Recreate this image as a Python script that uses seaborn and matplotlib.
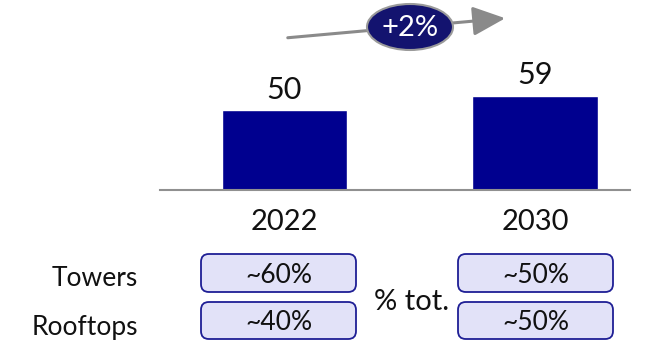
import matplotlib
matplotlib.use("Agg")
import matplotlib.pyplot as plt
import seaborn as sns
import pandas as pd
from matplotlib.patches import FancyBboxPatch, Ellipse, FancyArrowPatch

# Data
years = ["2022", "2030"]
values = [50, 59]
growth_label = "+2%"
row_labels = ["Towers", "Rooftops"]
share_2022 = ["~60%", "~40%"]
share_2030 = ["~50%", "~50%"]
share_caption = "% tot."

sns.set_theme(style="white")
plt.rcParams["font.family"] = ["Lato", "DejaVu Sans"]
plt.rcParams["font.weight"] = "normal"

W, H = 654, 341
fig = plt.figure(figsize=(W / 100, H / 100), dpi=100)


def fx(px):
    return px / W


def fy(py):
    return 1 - py / H


BAR_COLOR = "#00008f"
BOX_EDGE = "#1f1f95"
BOX_FILL = "#e2e2f8"
GREY = "#8a8a8a"
INK = "#111111"

# Bar axes: baseline at y=190 px, spanning x 160..630 px
ax = fig.add_axes([fx(160), fy(190), fx(470), 190 / H])
df = pd.DataFrame({"year": years, "value": values})
sns.barplot(data=df, x="year", y="value", color=BAR_COLOR, width=0.5,
            saturation=1, ax=ax)
unit = 250.5
ax.set_xlim(-(284.5 - 160) / unit, 1 + (630 - 535) / unit)
ax.set_ylim(0, 190 / 1.6)
ax.set_xlabel("")
ax.set_ylabel("")
ax.set_yticks([])
ax.set_xticks([])
for s in ["top", "right", "left"]:
    ax.spines[s].set_visible(False)
ax.spines["bottom"].set_color("#909090")
ax.spines["bottom"].set_linewidth(1.5)
ax.patch.set_alpha(0)

for i, (y, v) in enumerate(zip(years, values)):
    ax.text(i, v + 4, str(v), ha="center", va="bottom", fontsize=22,
            color=INK)
    ax.text(i, -20, y, ha="center", va="center", fontsize=21,
            color=INK, clip_on=False)

# Growth arrow with ellipse badge
arrow = FancyArrowPatch((fx(285), fy(38)), (fx(508), fy(18)),
                        transform=fig.transFigure,
                        arrowstyle="-|>,head_length=1.0,head_width=0.45",
                        mutation_scale=20, color=GREY, lw=2.2)
fig.add_artist(arrow)
ell = Ellipse((fx(410), fy(27)), fx(86), 46 / H, transform=fig.transFigure,
              facecolor="#13136f", edgecolor="#9a9a9a", lw=1.5, zorder=5)
fig.add_artist(ell)
fig.text(fx(410), fy(28), growth_label, ha="center", va="center",
         fontsize=21, color="white", zorder=6)

# Share boxes
rows_y = [(253, 293), (301, 340)]
cols_x = [(200, 357), (457, 614)]
label_y = [276, 325]
for r, (y0, y1) in enumerate(rows_y):
    fig.text(fx(138), fy(label_y[r]), row_labels[r], ha="right",
             va="center_baseline", fontsize=19, color=INK)
    for c, (x0, x1) in enumerate(cols_x):
        box = FancyBboxPatch((fx(x0 + 1), fy(y1 - 1)), fx(x1 - x0 - 2),
                             (y1 - y0 - 2) / H,
                             boxstyle="round,pad=0,rounding_size=0.012",
                             transform=fig.transFigure, facecolor=BOX_FILL,
                             edgecolor=BOX_EDGE, lw=1.3,
                             mutation_aspect=W / H)
        fig.add_artist(box)
        txt = [share_2022, share_2030][c][r]
        fig.text(fx((x0 + x1) / 2), fy((y0 + y1) / 2), txt, ha="center",
                 va="center_baseline", fontsize=19, color=INK)

fig.text(fx(412), fy(299), share_caption, ha="center", va="center_baseline",
         fontsize=21, color=INK)

fig.savefig("out.png", dpi=100)
